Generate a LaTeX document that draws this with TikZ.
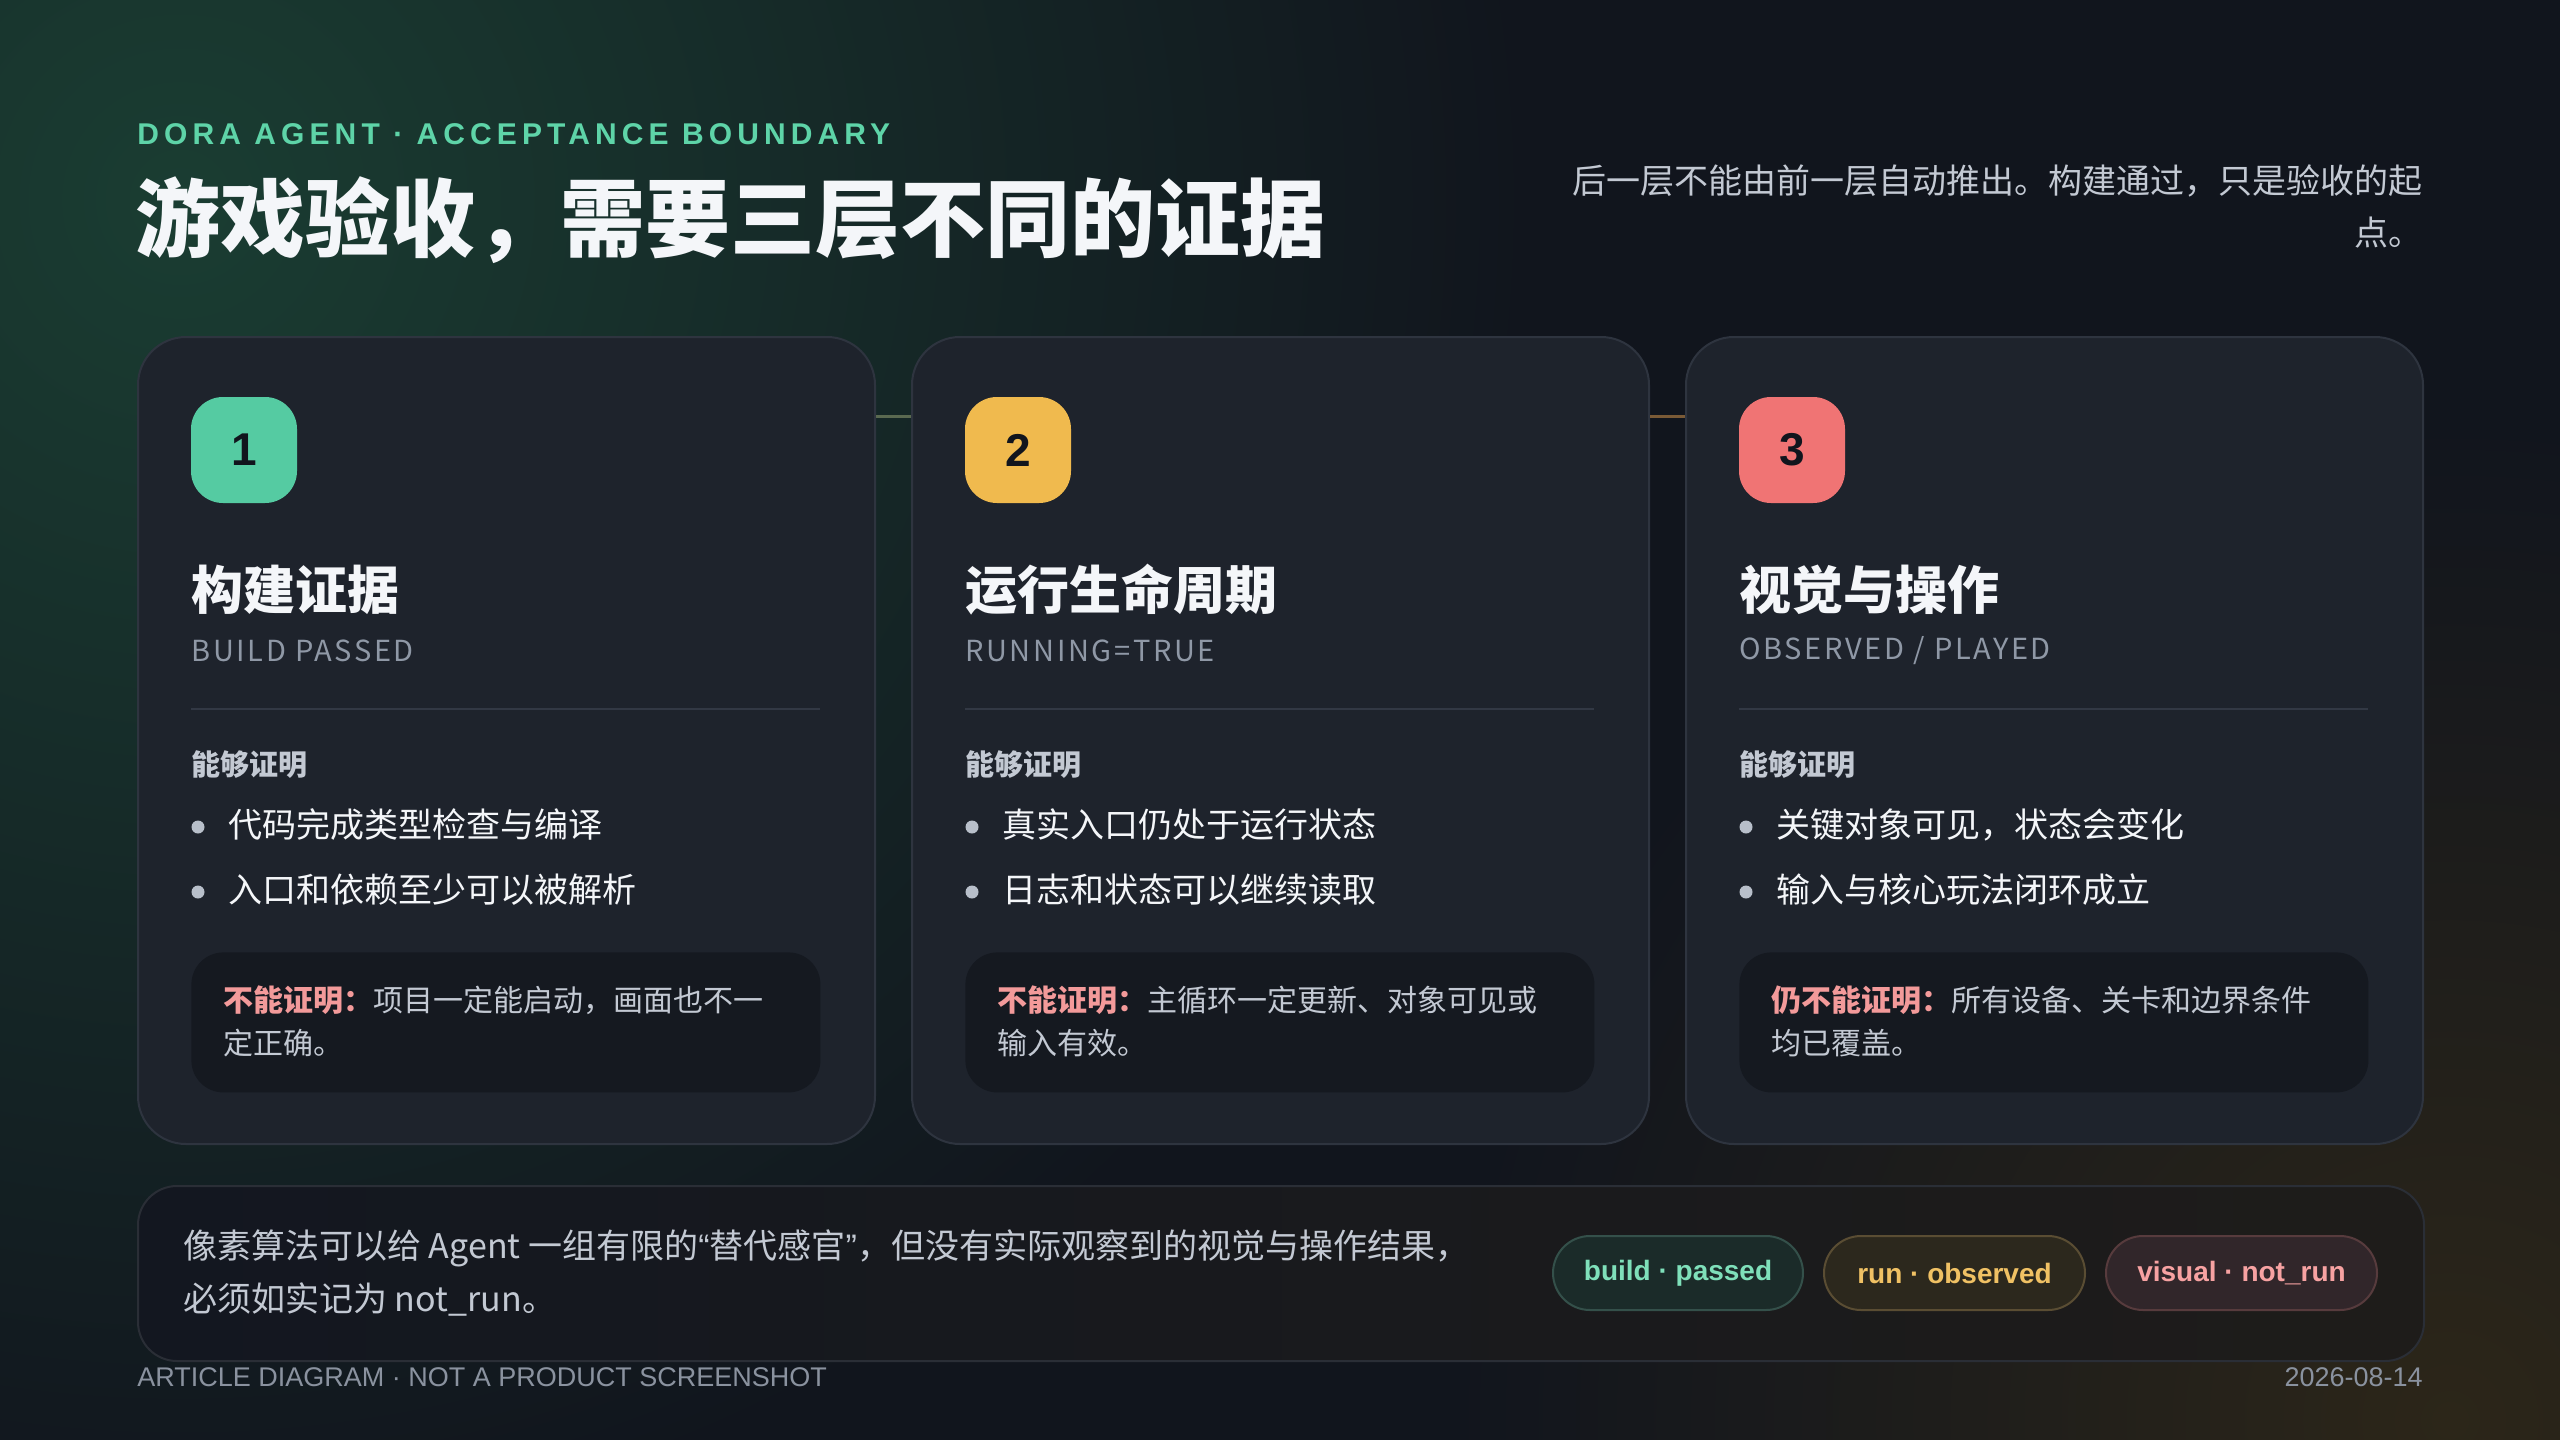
\documentclass[tikz,border=0pt]{standalone}
\usepackage{fontspec}
\setmainfont{Noto Sans CJK SC}
\newfontfamily\latf{Liberation Sans}
\usetikzlibrary{calc}
\definecolor{bg}{HTML}{11151D}
\definecolor{glowg}{HTML}{1A3D32}
\definecolor{glowb}{HTML}{2C2619}
\definecolor{cardbg}{HTML}{1E232C}
\definecolor{cardline}{HTML}{2E343F}
\definecolor{negbg}{HTML}{151920}
\definecolor{divcol}{HTML}{323844}
\definecolor{greenc}{HTML}{55CBA2}
\definecolor{labelg}{HTML}{5ED4A8}
\definecolor{yellowc}{HTML}{F0BA4E}
\definecolor{redc}{HTML}{F07474}
\definecolor{negred}{HTML}{F39A9A}
\definecolor{txtw}{HTML}{F4F6F9}
\definecolor{txtg}{HTML}{8F98A6}
\definecolor{txtl}{HTML}{C3C9D3}
\definecolor{dotc}{HTML}{B8BFCA}
\definecolor{conng}{HTML}{5A6950}
\definecolor{conny}{HTML}{7A5A36}
\definecolor{pgbg}{HTML}{1B2B29}
\definecolor{pgline}{HTML}{34504A}
\definecolor{pgtxt}{HTML}{7FE0BA}
\definecolor{pybg}{HTML}{2C281D}
\definecolor{pyline}{HTML}{5A4D33}
\definecolor{pytxt}{HTML}{F0C164}
\definecolor{prbg}{HTML}{31262A}
\definecolor{prline}{HTML}{573B3D}
\definecolor{prtxt}{HTML}{F7A2A2}
\definecolor{panl}{HTML}{131720}
\definecolor{panr}{HTML}{1E1C1A}
\definecolor{panline}{HTML}{2A2E36}
\definecolor{foot}{HTML}{8A929F}
\newcommand{\mycard}[9]{%
  \node[card] (#1) at (#2,336) {};
  \node[badge, fill=#3] (#1b) at (#2+107,450) {#4};
  \node[ctitle] (#1t) at (#2+54,590) {#5};
  \node[csub] (#1s) at (#2+54,651) {#6};
  \coordinate (#1d1) at (#2+54,709);
  \coordinate (#1d2) at (#2+683,709);
  \draw[divline] (#1d1) -- (#1d2);
  \node[chead] (#1h) at (#2+54,765) {能够证明};
  \node[dotn] (#1p1) at (#2+61,827) {};
  \node[bul] (#1l1) at (#2+91,825) {#7};
  \node[dotn] (#1p2) at (#2+61,892) {};
  \node[bul] (#1l2) at (#2+91,890) {#8};
  \node[negbox] (#1n) at (#2+54,952) {};
  \node[negtext] (#1nt) at (#2+86,1021) {#9};
}
\begin{document}
\begin{tikzpicture}[x=0.5pt,y=-0.5pt,
  card/.style={draw=cardline, line width=1pt, fill=cardbg, rounded corners=24pt,
    minimum width=368.5pt, minimum height=403.5pt, inner sep=0pt, anchor=north west},
  badge/.style={rounded corners=16pt, minimum size=53pt, inner sep=0pt,
    font=\latf\bfseries\fontsize{23}{23}\selectfont, text=bg},
  ctitle/.style={anchor=west, inner sep=0pt, text=txtw, font=\bfseries\fontsize{26}{30}\selectfont},
  csub/.style={anchor=west, inner sep=0pt, text=txtg, font=\fontsize{14.5}{16}\selectfont\addfontfeature{LetterSpace=9}},
  divline/.style={draw=divcol, line width=1pt},
  chead/.style={anchor=west, inner sep=0pt, text=txtl, font=\bfseries\fontsize{14.5}{16}\selectfont},
  dotn/.style={circle, fill=dotc, minimum size=6.5pt, inner sep=0pt},
  bul/.style={anchor=west, inner sep=0pt, text=txtw, font=\fontsize{17}{20}\selectfont},
  negbox/.style={fill=negbg, rounded corners=16pt, minimum width=314.5pt, minimum height=70pt,
    inner sep=0pt, anchor=north west},
  negtext/.style={anchor=west, inner sep=0pt, align=left, text=txtl, font=\fontsize{15}{21.5}\selectfont},
  pill/.style={rounded corners=18.5pt, minimum height=37pt, inner sep=0pt, line width=1pt,
    font=\latf\bfseries\fontsize{14}{16}\selectfont},
  footst/.style={inner sep=0pt, text=foot, font=\latf\fontsize{13.5}{15}\selectfont},
  conn/.style={line width=1.5pt}
]
\useasboundingbox (0,0) rectangle (2560,1440);
\fill[bg] (0,0) rectangle (2560,1440);
\begin{scope}
  \clip (0,0) rectangle (2560,1440);
  \shade[inner color=glowg, outer color=bg] (180,200) circle (1350);
  \shade[inner color=glowb, outer color=bg] (2450,1420) circle (1000);
\end{scope}

% header
\node[anchor=west, inner sep=0pt, text=labelg, font=\latf\bfseries\fontsize{15}{16}\selectfont\addfontfeature{LetterSpace=17}] (label) at (137,134) {DORA AGENT · ACCEPTANCE BOUNDARY};
\node[anchor=west, inner sep=0pt, text=txtw, font=\bfseries\fontsize{42.5}{46}\selectfont] (title) at (135,220) {游戏验收，需要三层不同的证据};
\node[anchor=east, inner sep=0pt, text=txtl, font=\fontsize{17}{20}\selectfont] (note1) at (2423,181) {后一层不能由前一层自动推出。构建通过，只是验收的起};
\node[anchor=east, inner sep=0pt, text=txtl, font=\fontsize{17}{20}\selectfont] (note2) at (2423,233) {点。};

% cards
\mycard{c1}{137}{greenc}{1}{构建证据}{BUILD PASSED}{代码完成类型检查与编译}{入口和依赖至少可以被解析}{\textcolor{negred}{\bfseries 不能证明：}项目一定能启动，画面也不一\\定正确。}
\mycard{c2}{911}{yellowc}{2}{运行生命周期}{RUNNING=TRUE}{真实入口仍处于运行状态}{日志和状态可以继续读取}{\textcolor{negred}{\bfseries 不能证明：}主循环一定更新、对象可见或\\输入有效。}
\mycard{c3}{1685}{redc}{3}{视觉与操作}{OBSERVED / PLAYED}{关键对象可见，状态会变化}{输入与核心玩法闭环成立}{\textcolor{negred}{\bfseries 仍不能证明：}所有设备、关卡和边界条件\\均已覆盖。}

% connectors
\coordinate (k1) at (c1.east |- 0,416);
\coordinate (k2) at (c2.east |- 0,416);
\draw[conn, conng] (k1) -- (k1 -| c2.west);
\draw[conn, conny] (k2) -- (k2 -| c3.west);

% bottom panel
\node[anchor=north west, draw=panline, line width=1pt, left color=panl, right color=panr,
  rounded corners=19.5pt, minimum width=1143pt, minimum height=87.5pt, inner sep=0pt] (panel) at (137,1185) {};
\node[anchor=west, inner sep=0pt, align=left, text=txtl, font=\fontsize{17}{26.5}\selectfont] (ptext) at (183,1273) {像素算法可以给 Agent 一组有限的{\latf “}替代感官{\latf ”}，但没有实际观察到的视觉与操作结果，\\必须如实记为 not\_run。};
\node[pill, draw=pgline, fill=pgbg, text=pgtxt, minimum width=125pt] (pb) at (1678,1273) {build · passed};
\node[pill, draw=pyline, fill=pybg, text=pytxt, minimum width=130.5pt] (pr) at (1954.5,1273) {run · observed};
\node[pill, draw=prline, fill=prbg, text=prtxt, minimum width=135.5pt] (pv) at (2241.5,1273) {visual · not\_run};

% footer
\node[footst, anchor=west] (foot1) at (137,1377) {ARTICLE DIAGRAM · NOT A PRODUCT SCREENSHOT};
\node[footst, anchor=east] (foot2) at (2423,1377) {2026-08-14};
\end{tikzpicture}
\end{document}
